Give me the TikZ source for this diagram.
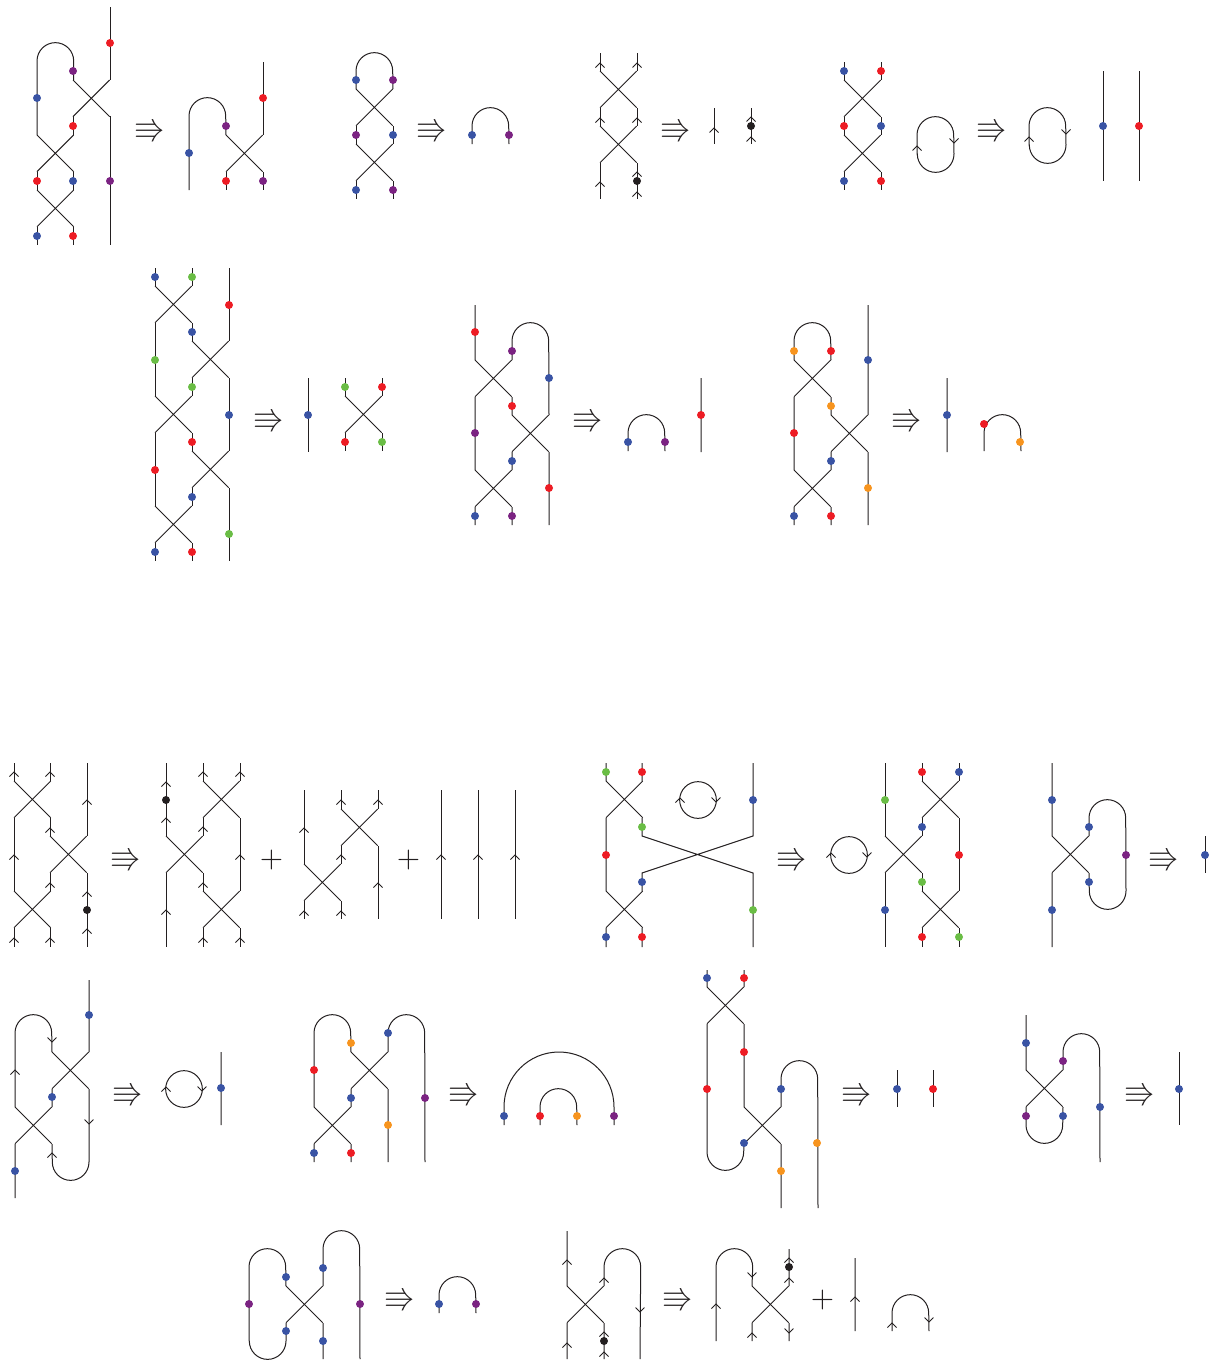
\documentclass[tikz,border=0pt]{standalone}
\usepackage{amsmath,amssymb}
\usepackage{xcolor}
\definecolor{ink}{HTML}{231F20}
\definecolor{dblue}{HTML}{3953A4}
\definecolor{dred}{HTML}{ED1C24}
\definecolor{dpurple}{HTML}{7B2382}
\definecolor{dgreen}{HTML}{6ABD45}
\definecolor{dorange}{HTML}{F7941E}
\tikzset{
  strand/.style={draw=ink, line width=1pt},
  tip/.style={draw=ink, line width=0.75pt},
  dot/.style={circle, draw=none, inner sep=0pt, minimum size=8pt},
  impl/.style={text=ink, inner sep=0pt, scale=3.1, xshift=0.2pt},
  plusop/.style={text=ink, inner sep=0pt, scale=3, xshift=0.2pt},
  capup/.style={start angle=180, end angle=360, radius=18.35},
  cupdn/.style={start angle=180, end angle=0, radius=18.35},
  cupback/.style={start angle=0, end angle=180, radius=18.35},
}
\newcommand\putx[1]{\foreach \x/\y in {#1} \draw[strand] (\x,\y) -- ++(36.7,36.7) (\x+36.7,\y) -- ++(-36.7,36.7);}
\newcommand\putup[1]{\foreach \x/\y in {#1} \draw[tip] (\x-4.5,\y+4.5) -- (\x,\y) -- (\x+4.5,\y+4.5);}
\newcommand\putdn[1]{\foreach \x/\y in {#1} \draw[tip] (\x-4.5,\y-4.5) -- (\x,\y) -- (\x+4.5,\y-4.5);}
\newcommand\putdots[2]{\foreach \x/\y/\c [count=\i] in {#2} \node[dot,fill=\c] (#1\i) at (\x,\y) {};}
\begin{document}
\begin{tikzpicture}[x=1pt,y=-1pt]
\useasboundingbox (0,0) rectangle (1215,1361);
\foreach \x/\y [count=\i] in {149/131,431/131,675/131,991/131,268/421,587/421,906/421,125/860,791/860,1163/860,127/1095,463/1095,856/1095,1139/1095,399/1300,677/1300}
  \node[impl] (imp\i) at (\x,\y) {$\Rrightarrow$};
\foreach \x/\y [count=\i] in {271/860,408/860,822/1300}
  \node[plusop] (plus\i) at (\x,\y) {$+$};
% first row
\draw[strand] (37,135) -- (37,61) arc[capup] -- (73.7,80);
\draw[strand] (110,7) -- (110,80) (110,116) -- (110,245) (73,116) -- (73,135);
\draw[strand] (37,172) -- (37,190) (73,172) -- (73,190) (37,227) -- (37,245) (73,227) -- (73,245);
\putx{73/80,37/135,37/190}
\putdots{a}{110/43/dred,73/71/dpurple,37/98/dblue,73/126/dred,37/181/dred,73/181/dblue,110/181/dpurple,37/236/dblue,73/236/dred}
\draw[strand] (189,190) -- (189,116) arc[capup] -- (226,135);
\draw[strand] (263,62) -- (263,135) (226,172) -- (226,190) (263,172) -- (263,190);
\putx{226/135}
\putdots{b}{263/98/dred,226/126/dpurple,189/153/dblue,226/181/dred,263/181/dpurple}
\draw[strand] (356,89) -- (356,71) arc[capup] -- (393,89);
\draw[strand] (356,126) -- (356,144) (393,126) -- (393,144) (356,181) -- (356,199) (393,181) -- (393,199);
\putx{356/89,356/144}
\putdots{c}{356/80/dblue,393/80/dpurple,356/135/dpurple,393/135/dblue,356/190/dblue,393/190/dpurple}
\draw[strand] (472,144) -- (472,126) arc[capup] -- (509,144);
\putdots{d}{472/135/dblue,509/135/dpurple}
\draw[strand] (600,53) -- (600,71) (637,53) -- (637,71) (600,108) -- (600,126) (637,108) -- (637,126) (600,163) -- (600,199) (637,163) -- (637,199);
\putx{600/71,600/126}
\putup{600/63,637/63,600/118,637/118,600/182,637/172,637/192}
\putdots{e}{637/181/ink}
\draw[strand] (714,108) -- (714,144) (751,108) -- (751,144);
\putup{714/128,751/117,751/137}
\putdots{f}{751/126/ink}
\draw[strand] (844,62) -- (844,80) (881,62) -- (881,80) (844,117) -- (844,135) (881,117) -- (881,135) (844,172) -- (844,190) (881,172) -- (881,190);
\putx{844/80,844/135}
\putdots{g}{844/71/dblue,881/71/dred,844/126/dred,881/126/dblue,844/181/dblue,881/181/dred}
\draw[strand] (917,154) -- (917,135) arc[capup] -- (954,154) arc[cupback] -- cycle;
\putup{917/146}
\putdn{954/143}
\draw[strand] (1029,145) -- (1029,126) arc[capup] -- (1066,145) arc[cupback] -- cycle;
\putup{1029/137}
\putdn{1066/134}
\draw[strand] (1103,71) -- (1103,181) (1139,71) -- (1139,181);
\putdots{h}{1103/126/dblue,1139/126/dred}
% second row
\draw[strand] (155,268) -- (155,286) (192,268) -- (192,286) (229,268) -- (229,341) (155,323) -- (155,396) (192,323) -- (192,341) (192,378) -- (192,396) (229,378) -- (229,451) (155,433) -- (155,506) (192,433) -- (192,451) (192,488) -- (192,506) (229,488) -- (229,561) (155,543) -- (155,561) (192,543) -- (192,561);
\putx{155/286,192/341,155/396,192/451,155/506}
\putdots{k}{155/277/dblue,192/277/dgreen,229/305/dred,192/332/dblue,155/360/dgreen,192/387/dgreen,229/415/dblue,192/442/dred,155/470/dred,192/497/dblue,229/534/dgreen,155/552/dblue,192/552/dred}
\draw[strand] (308,378) -- (308,452) (345,378) -- (345,396) (382,378) -- (382,396) (345,433) -- (345,451) (382,433) -- (382,451);
\putx{345/396}
\putdots{l}{308/415/dblue,345/387/dgreen,382/387/dred,345/442/dred,382/442/dgreen}
\draw[strand] (475,305) -- (475,360) (475,397) -- (475,470) (512,360) -- (512,341) arc[capup] -- (549,415) (512,397) -- (512,415) (512,452) -- (512,470) (549,452) -- (549,525) (475,507) -- (475,525) (512,507) -- (512,525);
\putx{475/360,512/415,475/470}
\putdots{m}{475/332/dred,512/351/dpurple,549/378/dblue,512/406/dred,475/433/dpurple,512/461/dblue,549/488/dred,475/516/dblue,512/516/dpurple}
\draw[strand] (628,451) -- (628,433) arc[capup] -- (665,451) (701,378) -- (701,452);
\putdots{n}{628/442/dblue,665/442/dpurple,701/415/dred}
\draw[strand] (794,360) -- (794,341) arc[capup] -- (831,360) (868,305) -- (868,415) (794,397) -- (794,470) (831,397) -- (831,415) (831,452) -- (831,470) (868,452) -- (868,525) (794,507) -- (794,525) (831,507) -- (831,525);
\putx{794/360,831/415,794/470}
\putdots{o}{794/351/dorange,831/351/dred,868/360/dblue,831/406/dorange,794/433/dred,831/461/dblue,868/488/dorange,794/516/dblue,831/516/dred}
\draw[strand] (947,378) -- (947,452) (984,451) -- (984,433) arc[capup] -- (1021,451);
\putdots{p}{947/415/dblue,984/424/dred,1020/442/dorange}
% third row
\draw[strand] (14,763) -- (14,781) (50,763) -- (50,781) (87,763) -- (87,836) (14,818) -- (14,891) (50,818) -- (50,836) (50,873) -- (50,891) (87,873) -- (87,947) (14,928) -- (14,947) (50,928) -- (50,947);
\putx{14/781,50/836,14/891}
\putup{14/772,50/772,87/800,50/828,14/855,50/883,87/892,87/929,14/938,50/938}
\putdots{q}{87/910/ink}
\draw[strand] (166,763) -- (166,836) (166,873) -- (166,947) (203,763) -- (203,781) (240,763) -- (240,781) (203,818) -- (203,836) (240,818) -- (240,891) (203,873) -- (203,891) (203,928) -- (203,947) (240,928) -- (240,947);
\putx{166/836,203/781,203/891}
\putup{166/782,166/818,166/910,203/772,240/772,203/827,240/855,203/883,203/938,240/938}
\putdots{r}{166/800/ink}
\draw[strand] (304,790) -- (304,864) (341,790) -- (341,809) (378,790) -- (378,809) (341,846) -- (341,864) (378,846) -- (378,919) (304,901) -- (304,919) (341,901) -- (341,919);
\putx{304/864,341/809}
\putup{304/828,341/800,378/800,341/855,378/883,304/911,341/911}
\draw[strand] (441,790) -- (441,919) (478,790) -- (478,919) (515,790) -- (515,919);
\putup{441/855,478/855,515/855}
\draw[strand] (606,763) -- (606,781) (642,763) -- (642,781) (606,818) -- (606,891) (642,818) -- (642,836) -- (753,873) -- (753,947) (753,763) -- (753,836) -- (642,873) -- (642,891) (606,928) -- (606,947) (642,928) -- (642,947);
\putx{606/781,606/891}
\draw[strand] (698,800) circle[radius=18.35];
\putup{680/798}
\putdn{716/802}
\putdots{s}{606/772/dgreen,642/772/dred,642/827/dgreen,753/800/dblue,606/855/dred,642/882/dblue,753/910/dgreen,606/937/dblue,642/937/dred}
\draw[strand] (849,855) circle[radius=18.35];
\putup{831/853}
\putdn{867/857}
\draw[strand] (885,763) -- (885,836) (885,873) -- (885,947) (922,763) -- (922,781) (959,763) -- (959,781) (922,818) -- (922,836) (959,818) -- (959,891) (922,873) -- (922,891) (922,928) -- (922,947) (959,928) -- (959,947);
\putx{885/836,922/781,922/891}
\putdots{t}{885/800/dgreen,922/772/dred,959/772/dblue,922/827/dblue,959/855/dred,922/882/dgreen,885/910/dblue,922/937/dred,959/937/dgreen}
\draw[strand] (1052,763) -- (1052,836) (1052,873) -- (1052,947) (1089,836) -- (1089,818) arc[capup] -- (1126,891) arc[cupback] -- (1089,873);
\putx{1052/836}
\putdots{u}{1052/800/dblue,1089/827/dblue,1126/855/dpurple,1089/882/dblue,1052/910/dblue}
\draw[strand] (1205,836) -- (1205,873);
\putdots{v}{1205/855/dblue}
% fourth row
\draw[strand] (89,980) -- (89,1052) (15,1107) -- (15,1033) arc[capup] -- (52,1052) (52,1089) -- (52,1107) (89,1089) -- (89,1162) arc[cupback] -- (52,1144) (15,1144) -- (15,1198);
\putx{52/1052,15/1107}
\putup{15/1070,52/1153}
\putdn{52/1042,89/1124}
\putdots{w}{89/1015/dblue,52/1097/dblue,15/1171/dblue}
\draw[strand] (184,1089) circle[radius=18.35] (221,1052) -- (221,1125);
\putup{166/1087}
\putdn{202/1091}
\putdots{x}{221/1088/dblue}
\draw[strand] (314,1107) -- (314,1033) arc[capup] -- (351,1052) (388,1052) -- (388,1033) arc[capup] -- (425,1162) (351,1089) -- (351,1107) (388,1089) -- (388,1162) (314,1144) -- (314,1162) (351,1144) -- (351,1162);
\putx{351/1052,314/1107}
\putdots{y}{351/1043/dorange,388/1033/dblue,314/1070/dred,351/1098/dblue,425/1098/dpurple,388/1125/dorange,314/1153/dblue,351/1153/dred}
\draw[strand] (504,1125) -- (504,1107) arc[start angle=180,end angle=360,radius=55] -- (614,1125);
\draw[strand] (540,1125) -- (540,1107) arc[capup] -- (577,1125);
\putdots{z}{504/1116/dblue,540/1116/dred,577/1116/dorange,614/1116/dpurple}
\draw[strand] (707,970) -- (707,987) (744,970) -- (744,987) (707,1024) -- (707,1152) arc[cupdn] -- (744,1144) (744,1024) -- (744,1107) (781,1107) -- (781,1079) arc[capup] -- (818,1208) (781,1144) -- (781,1208);
\putx{707/987,744/1107}
\putdots{aa}{707/978/dblue,744/978/dred,744/1052/dred,707/1089/dred,781/1089/dblue,744/1143/dblue,817/1143/dorange,781/1171/dorange}
\draw[strand] (897,1070) -- (897,1107) (933,1070) -- (933,1107);
\putdots{ab}{897/1089/dblue,933/1089/dred}
\draw[strand] (1026,1015) -- (1026,1070) (1063,1070) -- (1063,1052) arc[capup] -- (1100,1162) (1026,1107) -- (1026,1125) arc[cupdn] -- (1063,1107);
\putx{1026/1070}
\putdots{ac}{1026/1043/dblue,1063/1061/dpurple,1100/1107/dblue,1026/1116/dpurple,1063/1116/dblue}
\draw[strand] (1179,1052) -- (1179,1125);
\putdots{ad}{1179/1089/dblue}
% fifth row
\draw[strand] (249,1341) -- (249,1267) arc[capup] -- (286,1286) (286,1323) -- (286,1341) arc[cupback] (323,1286) -- (323,1249) arc[capup] -- (360,1359) (323,1323) -- (323,1359);
\putx{286/1286}
\putdots{ae}{286/1277/dblue,323/1268/dblue,249/1304/dpurple,360/1304/dpurple,286/1331/dblue,323/1341/dblue}
\draw[strand] (439,1313) -- (439,1295) arc[capup] -- (476,1313);
\putdots{af}{439/1304/dblue,476/1304/dpurple}
\draw[strand] (567,1231) -- (567,1286) (604,1286) -- (604,1267) arc[capup] -- (640,1359) (567,1323) -- (567,1359) (604,1323) -- (604,1359);
\putx{567/1286}
\putup{567/1260,604/1278,567/1343,604/1332,604/1352}
\putdn{640/1312}
\putdots{ag}{604/1341/ink}
\draw[strand] (716,1341) -- (716,1267) arc[capup] -- (752,1286) (789,1249) -- (789,1286) (752,1323) -- (752,1341) (789,1323) -- (789,1341);
\putx{752/1286}
\putup{716/1304,789/1258,789/1278,752/1333}
\putdn{752/1277,789/1333}
\putdots{ah}{789/1267/ink}
\draw[strand] (855,1258) -- (855,1331) (892,1331) -- (892,1313) arc[capup] -- (929,1331);
\putup{855/1297,892/1323}
\putdn{929/1322}
\end{tikzpicture}
\end{document}
